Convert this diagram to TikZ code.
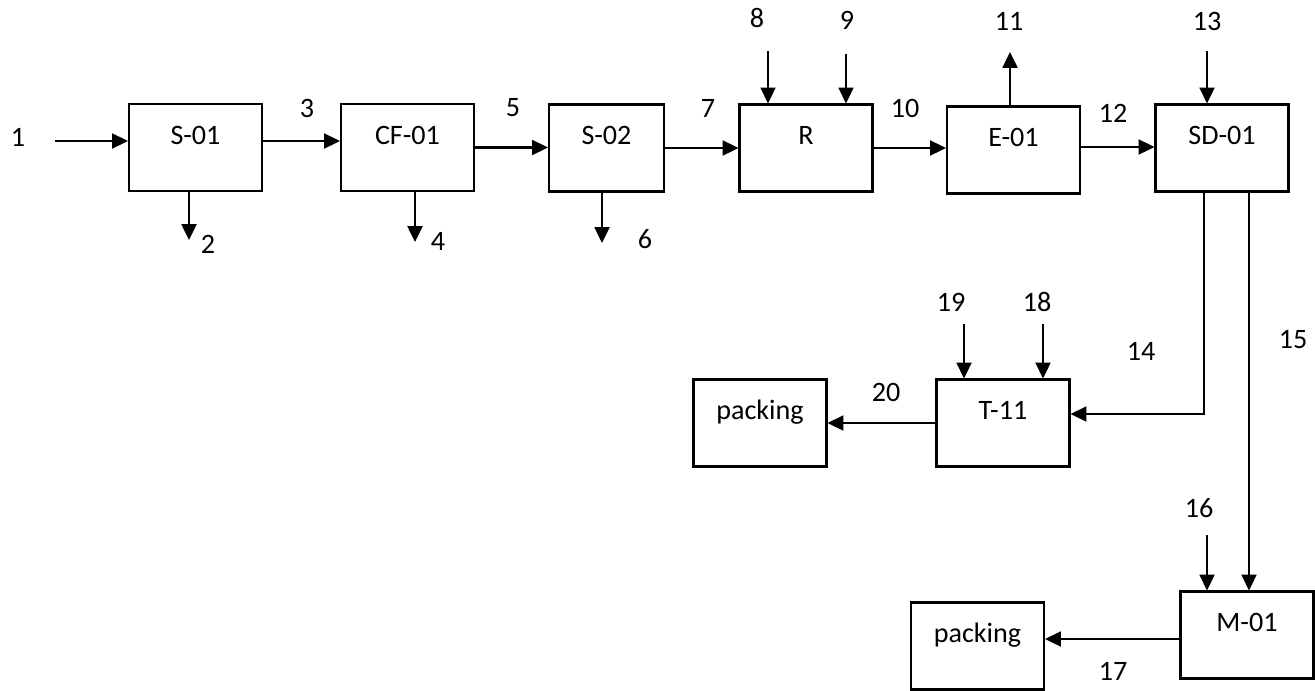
\documentclass[tikz,border=0pt]{standalone}
\usepackage{fontspec}
\setmainfont{Carlito}
\usetikzlibrary{arrows.meta}

\begin{document}
\begin{tikzpicture}[x=0.02cm, y=-0.02cm,
  every node/.style={font=\fontsize{16}{19}\selectfont},
  unit/.style={draw, line width=1.2pt, minimum width=2.66cm, minimum height=1.74cm, text height=0.37cm, text depth=0.5cm, inner sep=0pt},
  flow/.style={line width=1.2pt, -{Triangle[length=9pt, width=8.5pt]}}]
  \useasboundingbox (0,0) rectangle (1315,690);
  % process units
  \node[unit] (s01) at (195.5,147.5) {S-01};
  \node[unit] (cf01) at (407.5,147.5) {CF-01};
  \node[unit, minimum width=2.3cm] (s02) at (606.5,148) {S-02};
  \node[unit] (r) at (806,148) {R};
  \node[unit] (e01) at (1013.5,150) {E-01};
  \node[unit] (sd01) at (1222,148) {SD-01};
  \node[unit] (pack1) at (760,423) {packing};
  \node[unit] (t11) at (1003,423) {T-11};
  \node[unit] (m01) at (1247,635) {M-01};
  \node[unit] (pack2) at (977.5,646) {packing};
  % free ends of the streams
  \coordinate (in1) at (55,141);
  \coordinate (out2) at (189,240);
  \coordinate (out4) at (415,242);
  \coordinate (out6) at (602,243);
  \coordinate (in8) at (768,51);
  \coordinate (in9) at (846,54);
  \coordinate (out11) at (1010,52);
  \coordinate (in13) at (1207,51);
  \coordinate (in16) at (1207,535);
  \coordinate (in18) at (1043,324);
  \coordinate (in19) at (964,324);
  \coordinate (c14) at ([xshift=-0.36cm]sd01.south);
  \coordinate (c15) at ([xshift=0.54cm]sd01.south);
  \coordinate (c17) at ([yshift=-0.08cm]m01.west);
  % streams
  \draw[flow] (in1) -- (in1 -| s01.west);
  \draw[flow] (out2 |- s01.south) -- (out2);
  \draw[flow] ([yshift=0.13cm]s01.east) -- ([yshift=0.13cm]cf01.west);
  \draw[flow] (out4 |- cf01.south) -- (out4);
  \draw[flow] (cf01.east) -- (cf01.east -| s02.west);
  \draw[flow] (out6 |- s02.south) -- (out6);
  \draw[flow] (s02.east) -- (s02.east -| r.west);
  \draw[flow] (in8) -- (in8 |- r.north);
  \draw[flow] (in9) -- (in9 |- r.north);
  \draw[flow] (r.east) -- (r.east -| e01.west);
  \draw[flow] (out11 |- e01.north) -- (out11);
  \draw[flow] ([yshift=0.06cm]e01.east) -- ([yshift=0.06cm]e01.east -| sd01.west);
  \draw[flow] (in13) -- (in13 |- sd01.north);
  \draw[flow] (c14) |- ([yshift=0.18cm]t11.east);
  \draw[flow] (c15) -- (c15 |- m01.north);
  \draw[flow] (in16) -- (in16 |- m01.north);
  \draw[flow] (c17) -- (c17 -| pack2.east);
  \draw[flow] (in18) -- (in18 |- t11.north);
  \draw[flow] (in19) -- (in19 |- t11.north);
  \draw[flow] (t11.west) -- (t11.west -| pack1.east);
  % stream numbers
  \node (n1) at (18,137) {1};
  \node (n2) at (208,244) {2};
  \node (n3) at (307,108) {3};
  \node (n4) at (438,241) {4};
  \node (n5) at (513,108) {5};
  \node (n6) at (645,239) {6};
  \node (n7) at (708,108) {7};
  \node (n8) at (757,18) {8};
  \node (n9) at (847,20) {9};
  \node (n10) at (905,108) {10};
  \node (n11) at (1009,21) {11};
  \node (n12) at (1113,113) {12};
  \node (n13) at (1207,21) {13};
  \node (n14) at (1141,351) {14};
  \node (n15) at (1293,340) {15};
  \node (n16) at (1199,508) {16};
  \node (n17) at (1113,671) {17};
  \node (n18) at (1037,302) {18};
  \node (n19) at (951,302) {19};
  \node (n20) at (886,392) {20};
\end{tikzpicture}
\end{document}
